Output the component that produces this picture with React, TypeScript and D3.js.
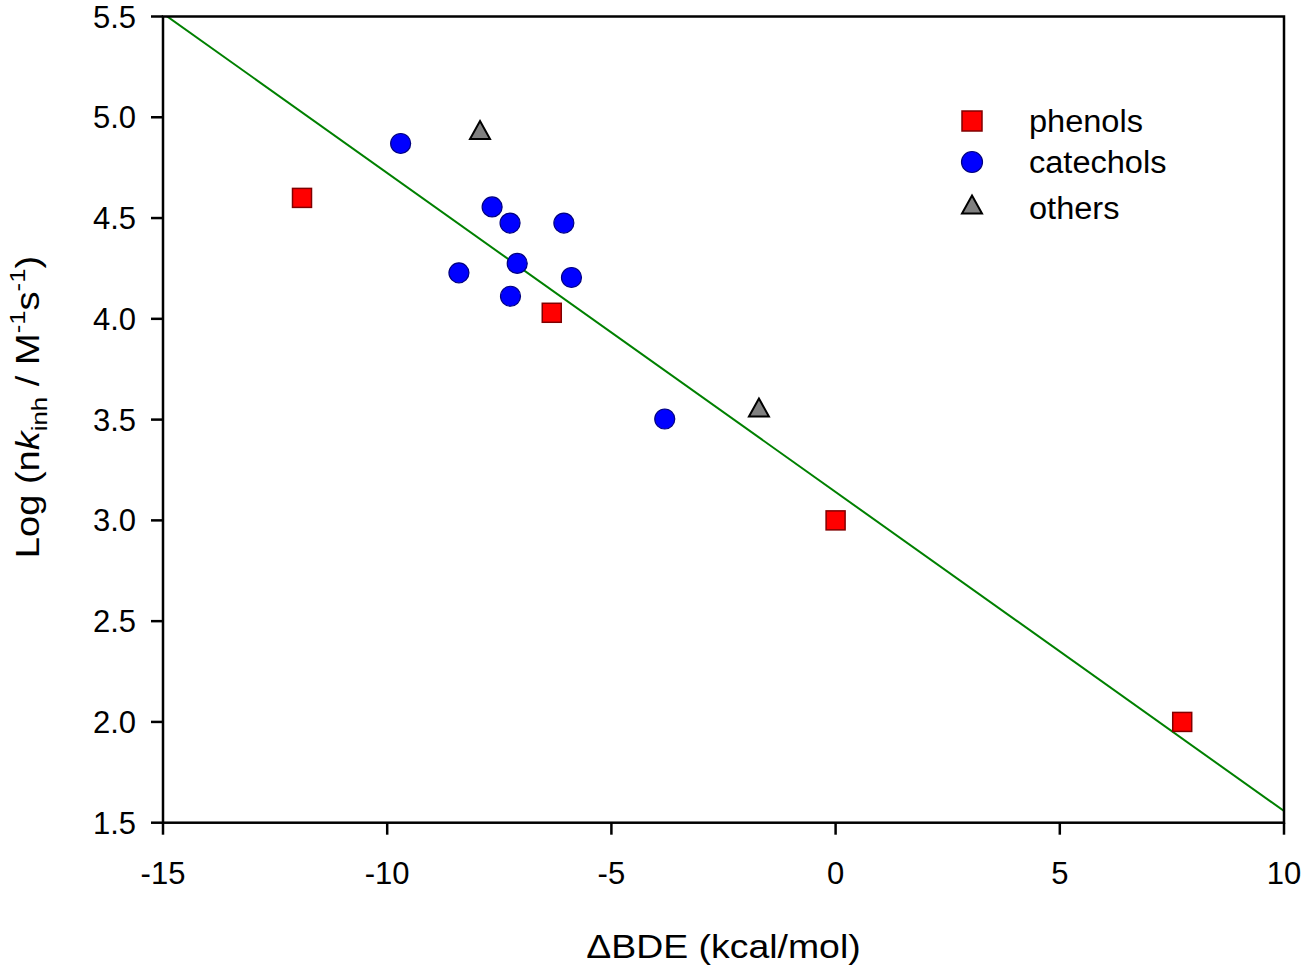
import React from "react";
import * as d3 from "d3";

const phenolsX = [-11.9, -6.33, 0.0, 7.73];
const phenolsY = [4.6, 4.03, 3.0, 2.0];
const catecholsX = [-9.7, -7.66, -7.26, -6.06, -7.1, -8.4, -5.89, -7.25, -3.81];
const catecholsY = [4.87, 4.555, 4.475, 4.475, 4.275, 4.228, 4.205, 4.112, 3.503];
const othersX = [-7.93, -1.71];
const othersY = [4.93, 3.553];
const fitX = [-15, 10];
const fitY = [5.515, 1.558];
const xTicks = [-15, -10, -5, 0, 5, 10];
const yTicks = [1.5, 2.0, 2.5, 3.0, 3.5, 4.0, 4.5, 5.0, 5.5];
const legendLabels = ["phenols", "catechols", "others"];

const W = 1305;
const H = 972;
const left = 163;
const right = 1284;
const top = 16.5;
const bottom = 822.7;
const FONT = "Arial, 'Liberation Sans', sans-serif";

export default function App() {
  const x = d3.scaleLinear().domain([-15, 10]).range([left, right]);
  const y = d3.scaleLinear().domain([1.5, 5.5]).range([bottom, top]);
  const line = d3
    .line<number>()
    .x((_, i) => x(fitX[i]))
    .y((_, i) => y(fitY[i]));
  const sq = 19;
  const triPath = (cx: number, cy: number) => {
    const w = 20, h = 18;
    return `M${cx},${cy - h * 0.58}L${cx + w / 2},${cy + h * 0.42}L${cx - w / 2},${cy + h * 0.42}Z`;
  };
  const legendX = 972;
  const legendTextX = 1029;
  const legendY = [121, 162, 206];
  const legendBase = [132, 173, 219];

  return (
    <svg
      width={W}
      height={H}
      style={{ position: "absolute", left: 0, top: 0, background: "#fff" }}
      fontFamily={FONT}
    >
      <defs>
        <clipPath id="plotclip">
          <rect x={left} y={top} width={right - left} height={bottom - top} />
        </clipPath>
      </defs>
      <rect x={0} y={0} width={W} height={H} fill="#fff" />
      <path
        d={line(fitX) || ""}
        fill="none"
        stroke="#008000"
        strokeWidth={2}
        clipPath="url(#plotclip)"
      />
      <rect
        x={left}
        y={top}
        width={right - left}
        height={bottom - top}
        fill="none"
        stroke="#000"
        strokeWidth={2.5}
      />
      {xTicks.map((t) => (
        <g key={"xt" + t}>
          <line x1={x(t)} x2={x(t)} y1={bottom} y2={bottom + 12} stroke="#000" strokeWidth={2.5} />
          <text x={x(t)} y={884} fontSize={31} textAnchor="middle" fill="#000">
            {String(t)}
          </text>
        </g>
      ))}
      {yTicks.map((t) => (
        <g key={"yt" + t}>
          <line x1={left - 12} x2={left} y1={y(t)} y2={y(t)} stroke="#000" strokeWidth={2.5} />
          <text x={136} y={y(t) + 11} fontSize={31} textAnchor="end" fill="#000">
            {t.toFixed(1)}
          </text>
        </g>
      ))}
      <text
        transform={`translate(${(left + right) / 2},958) scale(1.1,1)`}
        fontSize={34}
        textAnchor="middle"
        fill="#000"
      >
        ΔBDE (kcal/mol)
      </text>
      <text
        transform={`translate(39,407) rotate(-90) scale(1.12,1)`}
        fontSize={34}
        textAnchor="middle"
        fill="#000"
      >
        <tspan>Log (n</tspan>
        <tspan fontStyle="italic">k</tspan>
        <tspan fontSize={23} dy={8}>inh</tspan>
        <tspan dy={-8}> / M</tspan>
        <tspan fontSize={23} dy={-14}>-1</tspan>
        <tspan dy={14}>s</tspan>
        <tspan fontSize={23} dy={-14}>-1</tspan>
        <tspan dy={14}>)</tspan>
      </text>
      {phenolsX.map((v, i) => (
        <rect
          key={"p" + i}
          x={x(v) - sq / 2}
          y={y(phenolsY[i]) - sq / 2}
          width={sq}
          height={sq}
          fill="#ff0000"
          stroke="#800000"
          strokeWidth={1.5}
        />
      ))}
      {catecholsX.map((v, i) => (
        <circle
          key={"c" + i}
          cx={x(v)}
          cy={y(catecholsY[i])}
          r={10}
          fill="#0000ff"
          stroke="#000080"
          strokeWidth={1.2}
        />
      ))}
      {othersX.map((v, i) => (
        <path key={"o" + i} d={triPath(x(v), y(othersY[i]))} fill="#808080" stroke="#000" strokeWidth={2} />
      ))}
      <rect x={legendX - 10} y={legendY[0] - 10} width={20} height={20} fill="#ff0000" stroke="#800000" strokeWidth={1.5} />
      <circle cx={legendX} cy={legendY[1]} r={10.5} fill="#0000ff" stroke="#000080" strokeWidth={1.2} />
      <path d={triPath(legendX, legendY[2])} fill="#808080" stroke="#000" strokeWidth={2} />
      {legendLabels.map((l, i) => (
        <text
          key={l}
          transform={`translate(${legendTextX},${legendBase[i]}) scale(1.05,1)`}
          fontSize={31}
          fill="#000"
        >
          {l}
        </text>
      ))}
    </svg>
  );
}
